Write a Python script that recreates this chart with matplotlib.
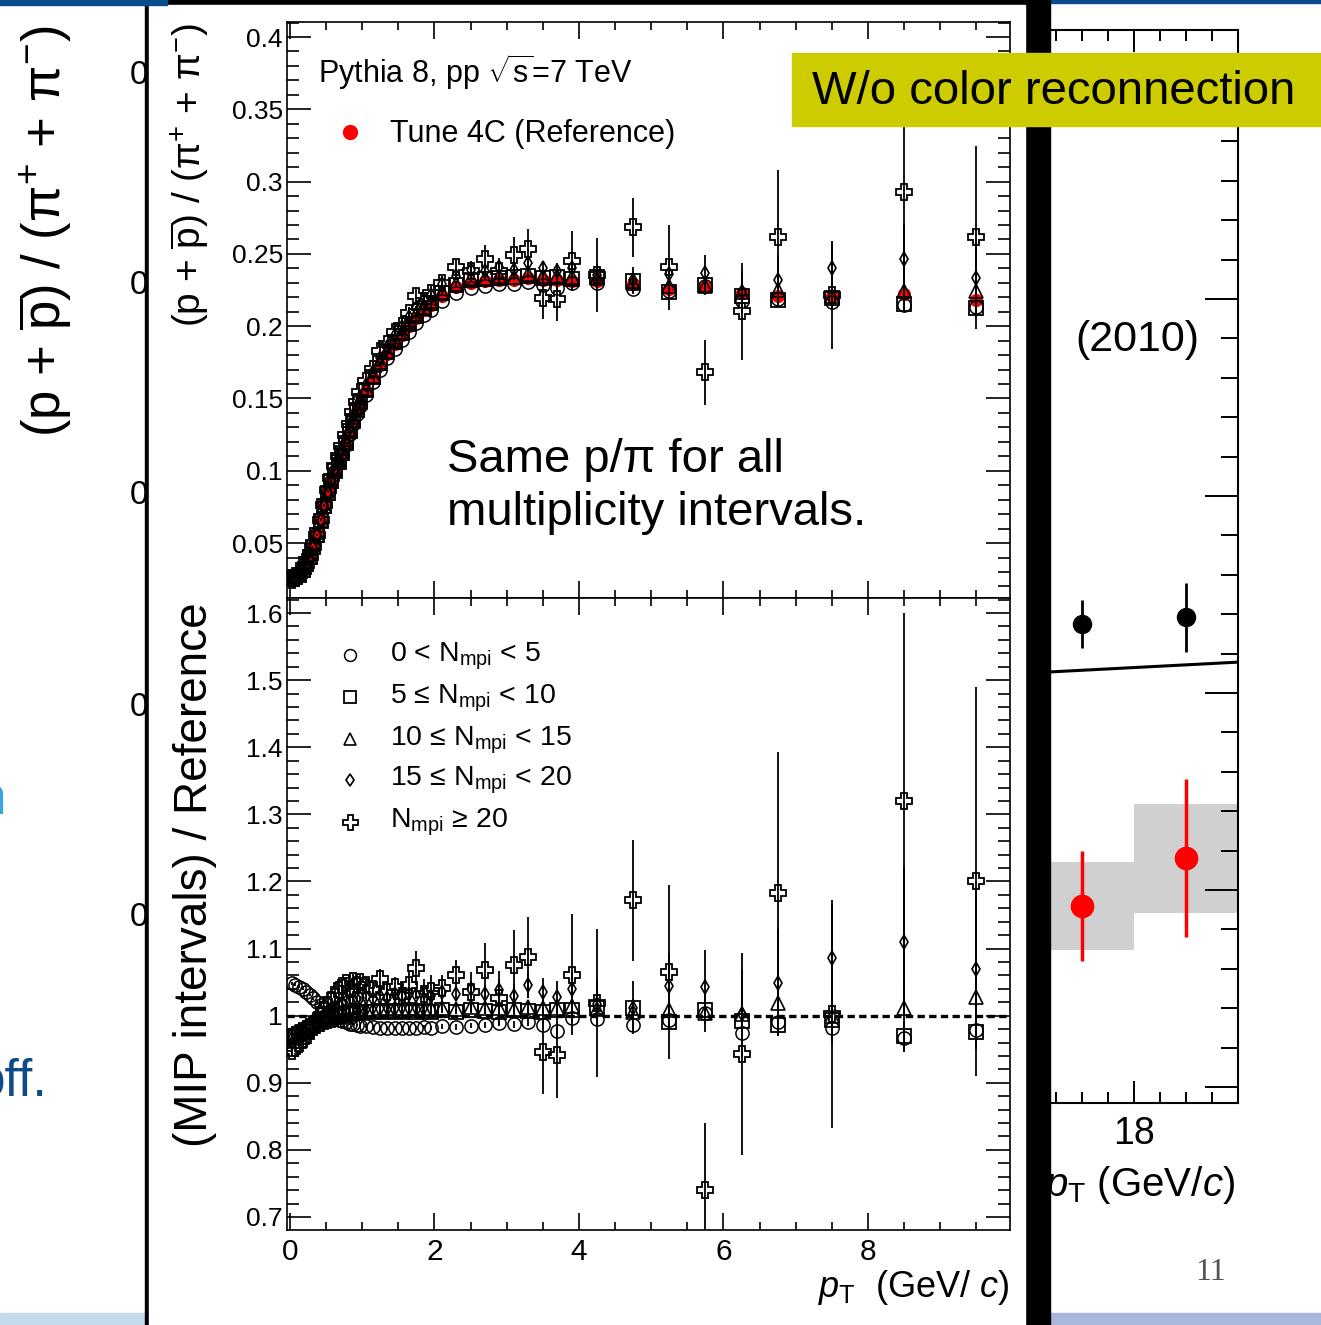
import numpy as np
import matplotlib
matplotlib.use('Agg')
import matplotlib.pyplot as plt
from matplotlib.patches import Rectangle
from matplotlib.lines import Line2D
from matplotlib.ticker import MultipleLocator, FuncFormatter

plt.rcParams['font.family'] = ['Liberation Sans', 'DejaVu Sans']
plt.rcParams['mathtext.fontset'] = 'custom'
plt.rcParams['mathtext.rm'] = 'Liberation Sans'
plt.rcParams['mathtext.it'] = 'Liberation Sans:italic'
plt.rcParams['mathtext.bf'] = 'Liberation Sans:bold'
plt.rcParams['mathtext.default'] = 'regular'

W, H = 1321, 1325

# pT bin centres (GeV/c)
pt = [0.025, 0.075, 0.125, 0.175, 0.225, 0.275, 0.325, 0.375, 0.425, 0.475,
      0.525, 0.575, 0.625, 0.675, 0.725, 0.775, 0.825, 0.875, 0.925, 0.975,
      1.05, 1.15, 1.25, 1.35, 1.45, 1.55, 1.65, 1.75, 1.85, 1.95,
      2.1, 2.3, 2.5, 2.7, 2.9, 3.1, 3.3, 3.5, 3.7, 3.9,
      4.25, 4.75, 5.25, 5.75, 6.25, 6.75, 7.5, 8.5, 9.5]

# Tune 4C reference p/pi
ref = [0.026, 0.027, 0.029, 0.032, 0.036, 0.041, 0.048, 0.056, 0.066, 0.076,
       0.085, 0.093, 0.100, 0.106, 0.112, 0.119, 0.127, 0.134, 0.141, 0.147,
       0.155, 0.164, 0.173, 0.181, 0.188, 0.194, 0.200, 0.206, 0.211, 0.215,
       0.221, 0.227, 0.230, 0.231, 0.232, 0.232, 0.233, 0.232, 0.232, 0.231,
       0.231, 0.229, 0.226, 0.227, 0.223, 0.221, 0.221, 0.222, 0.218]
ref_err = [0.0003, 0.0003, 0.0003, 0.0003, 0.0003, 0.0004, 0.0004, 0.0004, 0.0004, 0.0004,
           0.0005, 0.0005, 0.0005, 0.0005, 0.0005, 0.0005, 0.0006, 0.0006, 0.0006, 0.0006,
           0.0007, 0.0007, 0.0007, 0.0008, 0.0008, 0.0008, 0.0009, 0.0009, 0.0009, 0.001,
           0.001, 0.001, 0.0012, 0.0013, 0.0014, 0.0015, 0.0016, 0.0017, 0.0018, 0.0019,
           0.002, 0.0022, 0.0024, 0.0026, 0.0028, 0.003, 0.003, 0.0035, 0.004]

# ratios (MPI interval / reference)
r_n0 = [1.048, 1.046, 1.043, 1.040, 1.036, 1.031, 1.026, 1.021, 1.016, 1.011,
        1.006, 1.001, 0.997, 0.994, 0.992, 0.990, 0.988, 0.987, 0.986, 0.985,
        0.984, 0.983, 0.982, 0.982, 0.981, 0.982, 0.981, 0.982, 0.983, 0.982,
        0.984, 0.983, 0.985, 0.986, 0.989, 0.987, 0.990, 0.986, 0.977, 0.996,
        0.995, 0.986, 0.993, 1.004, 0.974, 0.990, 0.982, 0.966, 0.979]
e_n0 = [0.002, 0.002, 0.002, 0.002, 0.002, 0.002, 0.002, 0.002, 0.002, 0.002,
        0.002, 0.002, 0.002, 0.002, 0.002, 0.002, 0.002, 0.002, 0.002, 0.002,
        0.003, 0.003, 0.003, 0.003, 0.003, 0.003, 0.003, 0.003, 0.003, 0.003,
        0.004, 0.004, 0.004, 0.005, 0.005, 0.005, 0.006, 0.006, 0.007, 0.007,
        0.008, 0.009, 0.010, 0.012, 0.013, 0.015, 0.015, 0.020, 0.022]

r_n5 = [0.968, 0.970, 0.972, 0.975, 0.978, 0.981, 0.984, 0.987, 0.990, 0.992,
        0.994, 0.996, 0.998, 1.000, 1.001, 1.002, 1.003, 1.004, 1.005, 1.005,
        1.006, 1.006, 1.007, 1.006, 1.007, 1.006, 1.008, 1.006, 1.007, 1.005,
        1.008, 1.006, 1.009, 1.007, 1.006, 1.008, 1.007, 1.006, 1.009, 1.008,
        1.012, 1.011, 0.990, 1.008, 0.992, 0.986, 0.994, 0.969, 0.976]
e_n5 = [0.002, 0.002, 0.002, 0.002, 0.002, 0.002, 0.002, 0.002, 0.002, 0.002,
        0.002, 0.002, 0.002, 0.002, 0.002, 0.002, 0.002, 0.002, 0.002, 0.002,
        0.003, 0.003, 0.003, 0.003, 0.003, 0.003, 0.003, 0.003, 0.003, 0.003,
        0.004, 0.004, 0.005, 0.005, 0.005, 0.006, 0.006, 0.007, 0.007, 0.008,
        0.009, 0.010, 0.011, 0.012, 0.014, 0.016, 0.016, 0.022, 0.024]

r_n10 = [0.972, 0.975, 0.978, 0.981, 0.984, 0.987, 0.990, 0.993, 0.995, 0.997,
         0.999, 1.001, 1.003, 1.005, 1.006, 1.007, 1.008, 1.008, 1.009, 1.009,
         1.010, 1.009, 1.011, 1.010, 1.012, 1.010, 1.011, 1.012, 1.010, 1.011,
         1.012, 1.010, 1.013, 1.011, 1.012, 1.010, 1.013, 1.011, 1.012, 1.014,
         1.010, 1.005, 1.008, 1.004, 1.002, 1.019, 1.000, 1.011, 1.028]
e_n10 = [0.003, 0.003, 0.003, 0.003, 0.003, 0.003, 0.003, 0.003, 0.003, 0.003,
         0.003, 0.003, 0.003, 0.003, 0.003, 0.003, 0.003, 0.003, 0.003, 0.003,
         0.004, 0.004, 0.004, 0.004, 0.004, 0.004, 0.004, 0.004, 0.004, 0.004,
         0.006, 0.006, 0.007, 0.008, 0.009, 0.010, 0.011, 0.012, 0.013, 0.014,
         0.018, 0.020, 0.025, 0.028, 0.032, 0.040, 0.040, 0.055, 0.060]

r_n15 = [0.960, 0.963, 0.966, 0.970, 0.975, 0.980, 0.986, 0.991, 0.996, 1.001,
         1.006, 1.010, 1.013, 1.016, 1.019, 1.021, 1.023, 1.024, 1.025, 1.026,
         1.028, 1.025, 1.030, 1.027, 1.032, 1.029, 1.033, 1.031, 1.035, 1.030,
         1.036, 1.033, 1.040, 1.032, 1.038, 1.030, 1.045, 1.035, 1.028, 1.040,
         1.018, 1.012, 1.044, 1.043, 1.003, 1.049, 1.086, 1.110, 1.070]
e_n15 = [0.004, 0.004, 0.004, 0.004, 0.004, 0.004, 0.004, 0.004, 0.004, 0.004,
         0.004, 0.004, 0.004, 0.004, 0.004, 0.004, 0.004, 0.004, 0.004, 0.004,
         0.006, 0.006, 0.006, 0.006, 0.006, 0.006, 0.006, 0.006, 0.006, 0.006,
         0.010, 0.011, 0.012, 0.014, 0.015, 0.017, 0.019, 0.021, 0.023, 0.025,
         0.035, 0.040, 0.050, 0.055, 0.065, 0.080, 0.080, 0.110, 0.120]

r_n20 = [0.948, 0.952, 0.958, 0.964, 0.970, 0.978, 0.986, 0.994, 1.000, 1.008,
         1.016, 1.024, 1.030, 1.038, 1.044, 1.048, 1.040, 1.052, 1.045, 1.050,
         1.045, 1.040, 1.055, 1.036, 1.042, 1.030, 1.046, 1.071, 1.032, 1.037,
         1.041, 1.061, 1.035, 1.068, 1.026, 1.075, 1.087, 0.946, 0.942, 1.061,
         1.019, 1.172, 1.065, 0.740, 0.943, 1.183, 1.003, 1.320, 1.200]
e_n20 = [0.006, 0.006, 0.006, 0.006, 0.006, 0.007, 0.007, 0.007, 0.007, 0.008,
         0.008, 0.008, 0.008, 0.009, 0.009, 0.009, 0.010, 0.010, 0.011, 0.011,
         0.012, 0.013, 0.014, 0.015, 0.016, 0.018, 0.020, 0.025, 0.022, 0.024,
         0.020, 0.022, 0.030, 0.040, 0.040, 0.052, 0.060, 0.062, 0.065, 0.090,
         0.110, 0.090, 0.130, 0.100, 0.150, 0.210, 0.170, 0.280, 0.290]

labels = ['0 < N$_{mpi}$ < 5', '5 \u2264 N$_{mpi}$ < 10', '10 \u2264 N$_{mpi}$ < 15',
          '15 \u2264 N$_{mpi}$ < 20', 'N$_{mpi}$ \u2265 20']

# slide behind the picture: the right-hand ALICE plot
bg_x = [17, 19]
bg_data = [0.0919, 0.1162]
bg_data_err = [0.028, 0.040]
bg_sys_lo = [0.0695, 0.0883]
bg_sys_hi = [0.1142, 0.1437]
bg_pp = [0.235, 0.2386]
bg_pp_err = [0.012, 0.0175]
bg_line_x = [16.0, 20.0]
bg_line_y = [0.2102, 0.2157]
bg_left_labels = ['0.5', '0.4', '0.3', '0.2', '0.1']


def fx(x):
    return x / W


def fy(y):
    return 1 - y / H


fig = plt.figure(figsize=(W / 100, H / 100), dpi=100)

# --- slide underneath -------------------------------------------------
under = fig.add_axes([0, 0, 1, 1], zorder=0)
under.set_xlim(0, W)
under.set_ylim(H, 0)
under.axis('off')
under.add_patch(Rectangle((1050, 0), 271, 3, color='#0b4a8b'))
under.add_patch(Rectangle((0, 1313), 150, 12, color='#c3dbec'))
under.add_patch(Rectangle((1040, 1313), 281, 12, color='#aab6dc'))
under.text(45, 231, r'(p + $\overline{p}$) / ($\pi^{+}$ + $\pi^{-}$)', rotation=90,
           fontsize=38, ha='center', va='center')
for yy, lab in zip([75, 285, 495, 707, 917], bg_left_labels):
    under.text(130, yy, lab, fontsize=24, ha='left', va='center')
under.text(6, 800, 'n', fontsize=37, color='#3aa4e2', ha='right', va='center')
under.text(48, 1095, 'off.', fontsize=37, color='#0d4a8a', ha='right', va='baseline')
under.text(1226, 1272, '11', fontsize=23, color='#555555', ha='right', va='center',
           family='Liberation Serif')

bg = fig.add_axes([fx(160), fy(1103), (1238 - 160) / W, (1103 - 30) / H], zorder=0.5)
bg.set_xlim(20 - 1078 / 52, 20)
bg.set_ylim(-0.0081, 0.5366)
bg.bar([(a + b) / 2 for a, b in zip([16, 18], [18, 20])],
       [h - l for h, l in zip(bg_sys_hi, bg_sys_lo)], bottom=bg_sys_lo, width=2,
       color='#d0d0d0', linewidth=0, zorder=1)
bg.plot(bg_line_x, bg_line_y, color='k', lw=2.2, zorder=2)
bg.errorbar(bg_x, bg_pp, yerr=bg_pp_err, fmt='o', color='k', ms=13, elinewidth=2, zorder=3)
bg.errorbar(bg_x, bg_data, yerr=bg_data_err, fmt='o', color='#ff0000', ms=16,
            elinewidth=2.5, zorder=3)
bg.xaxis.set_major_locator(MultipleLocator(2))
bg.xaxis.set_minor_locator(MultipleLocator(0.5))
bg.yaxis.set_major_locator(MultipleLocator(0.1))
bg.yaxis.set_minor_locator(MultipleLocator(0.02))
bg.xaxis.set_major_formatter(FuncFormatter(lambda v, p: '18' if abs(v - 18) < 1e-6 else ''))
bg.tick_params(which='both', direction='in', top=True, right=True, labelleft=False,
               width=1.4, labelsize=27, pad=9)
bg.tick_params(axis='x', which='major', length=16)
bg.tick_params(axis='x', which='minor', length=8)
bg.tick_params(axis='y', which='major', length=24)
bg.tick_params(axis='y', which='minor', length=12)
for s in bg.spines.values():
    s.set_linewidth(1.5)
fig.text(fx(1235), fy(1185), r'$\it{p}_{\rm T}$ (GeV/$\it{c}$)', fontsize=29,
         ha='right', va='center', zorder=0.6)
fig.text(fx(1075), fy(340), '(2010)', fontsize=31, ha='left', va='center', zorder=0.6)

# --- white box with black frame -------------------------------------
box = fig.add_axes([0, 0, 1, 1], zorder=1)
box.set_xlim(0, W)
box.set_ylim(H, 0)
box.axis('off')
box.add_patch(Rectangle((145, 0), 905, 1330, color='black'))
box.add_patch(Rectangle((149, 5), 876, 1330, color='white'))
box.add_patch(Rectangle((0, 0), 167, 5, color='#0b4a8b'))

# --- the two panels -------------------------------------------------
left, width = fx(287), (1010 - 287) / W
ax1 = fig.add_axes([left, fy(598), width, (598 - 22) / H], zorder=2)
ax2 = fig.add_axes([left, fy(1230), width, (1230 - 598) / H], zorder=2)

ref_a = np.array(ref)
series = [
    (r_n0, e_n0, 'o', 9.5, 1.1),
    (r_n5, e_n5, 's', 9.5, 1.3),
    (r_n10, e_n10, '^', 9.5, 1.2),
    (r_n15, e_n15, 'd', 7, 1.2),
    (r_n20, e_n20, 'P', 12, 1.3),
]

ax1.errorbar(pt, ref, yerr=ref_err, fmt='o', color='#ff0000', ms=8.5, elinewidth=1.2, zorder=2)
for r, e, m, ms, mew in series:
    ax1.errorbar(pt, ref_a * np.array(r), yerr=ref_a * np.array(e), fmt=m, ms=ms,
                 mfc='none', mec='k', mew=mew, ecolor='k', elinewidth=1.3, zorder=3)
    ax2.errorbar(pt, r, yerr=e, fmt=m, ms=ms, mfc='none', mec='k', mew=mew,
                 ecolor='k', elinewidth=1.3, zorder=3)
ax2.axhline(1, color='k', lw=2.4, ls=(0, (2.2, 1.3)), zorder=2)

ax1.set_xlim(-0.04, 9.965)
ax2.set_xlim(-0.04, 9.965)
ax1.set_ylim(0.012, 0.4104)
ax2.set_ylim(0.6806, 1.6224)

fmt = FuncFormatter(lambda v, p: f'{round(v, 3):g}')
for ax in (ax1, ax2):
    ax.xaxis.set_major_locator(MultipleLocator(2))
    ax.xaxis.set_minor_locator(MultipleLocator(0.5))
    ax.yaxis.set_major_formatter(fmt)
    ax.tick_params(which='both', direction='in', top=True, right=True, width=1.2)
    ax.tick_params(axis='x', which='major', length=12, labelsize=21.5, pad=6)
    ax.tick_params(axis='x', which='minor', length=6)
    ax.tick_params(axis='y', which='major', length=17, labelsize=19, pad=3)
    ax.tick_params(axis='y', which='minor', length=8.5)
    for s in ax.spines.values():
        s.set_linewidth(1.2)
ax1.yaxis.set_major_locator(MultipleLocator(0.05))
ax1.yaxis.set_minor_locator(MultipleLocator(0.01))
ax2.yaxis.set_major_locator(MultipleLocator(0.1))
ax2.yaxis.set_minor_locator(MultipleLocator(0.02))
ax1.tick_params(labelbottom=False)
ax2.xaxis.set_major_formatter(FuncFormatter(lambda v, p: f'{v:g}'))

fig.text(fx(190), fy(175), r'(p + $\overline{p}$) / ($\pi^{+}$ + $\pi^{-}$)', rotation=90,
         fontsize=28, ha='center', va='center')
fig.text(fx(195), fy(875), '(MIP intervals) / Reference', rotation=90,
         fontsize=33, ha='center', va='center')
fig.text(fx(1010), fy(1297), r'$\it{p}_{\rm T}$  (GeV/ $\it{c}$)', fontsize=26,
         ha='right', va='baseline')

# panel annotations
fig.text(fx(318), fy(83), r'Pythia 8, pp $\sqrt{s}$=7 TeV', fontsize=22, va='baseline')
fig.add_artist(Line2D([fx(350)], [fy(132)], transform=fig.transFigure, marker='o',
                      ms=10, color='#ff0000', zorder=3))
fig.text(fx(390), fy(142), 'Tune 4C (Reference)', fontsize=22, va='baseline')
fig.text(fx(447), fy(472), 'Same p/\u03c0 for all', fontsize=34, va='baseline')
fig.text(fx(447), fy(525), 'multiplicity intervals.', fontsize=34, va='baseline')

# legend of the ratio panel
for (r, e, m, ms, mew), lab, yy in zip(series, labels, [655, 697, 739, 780, 822]):
    fig.add_artist(Line2D([fx(350)], [fy(yy)], transform=fig.transFigure, marker=m,
                          ms=ms * 0.9, mfc='none', mec='k', mew=mew, zorder=3))
    fig.text(fx(390), fy(yy + 6), lab, fontsize=20.5, va='baseline')

# yellow banner
fig.add_artist(Rectangle((fx(792), fy(126)), (W - 792) / W, 73 / H,
                         transform=fig.transFigure, color='#cccc00', zorder=4))
fig.text(fx(812), fy(92), 'W/o color reconnection', fontsize=34, va='center', zorder=5)

fig.savefig('out.png', dpi=100)
